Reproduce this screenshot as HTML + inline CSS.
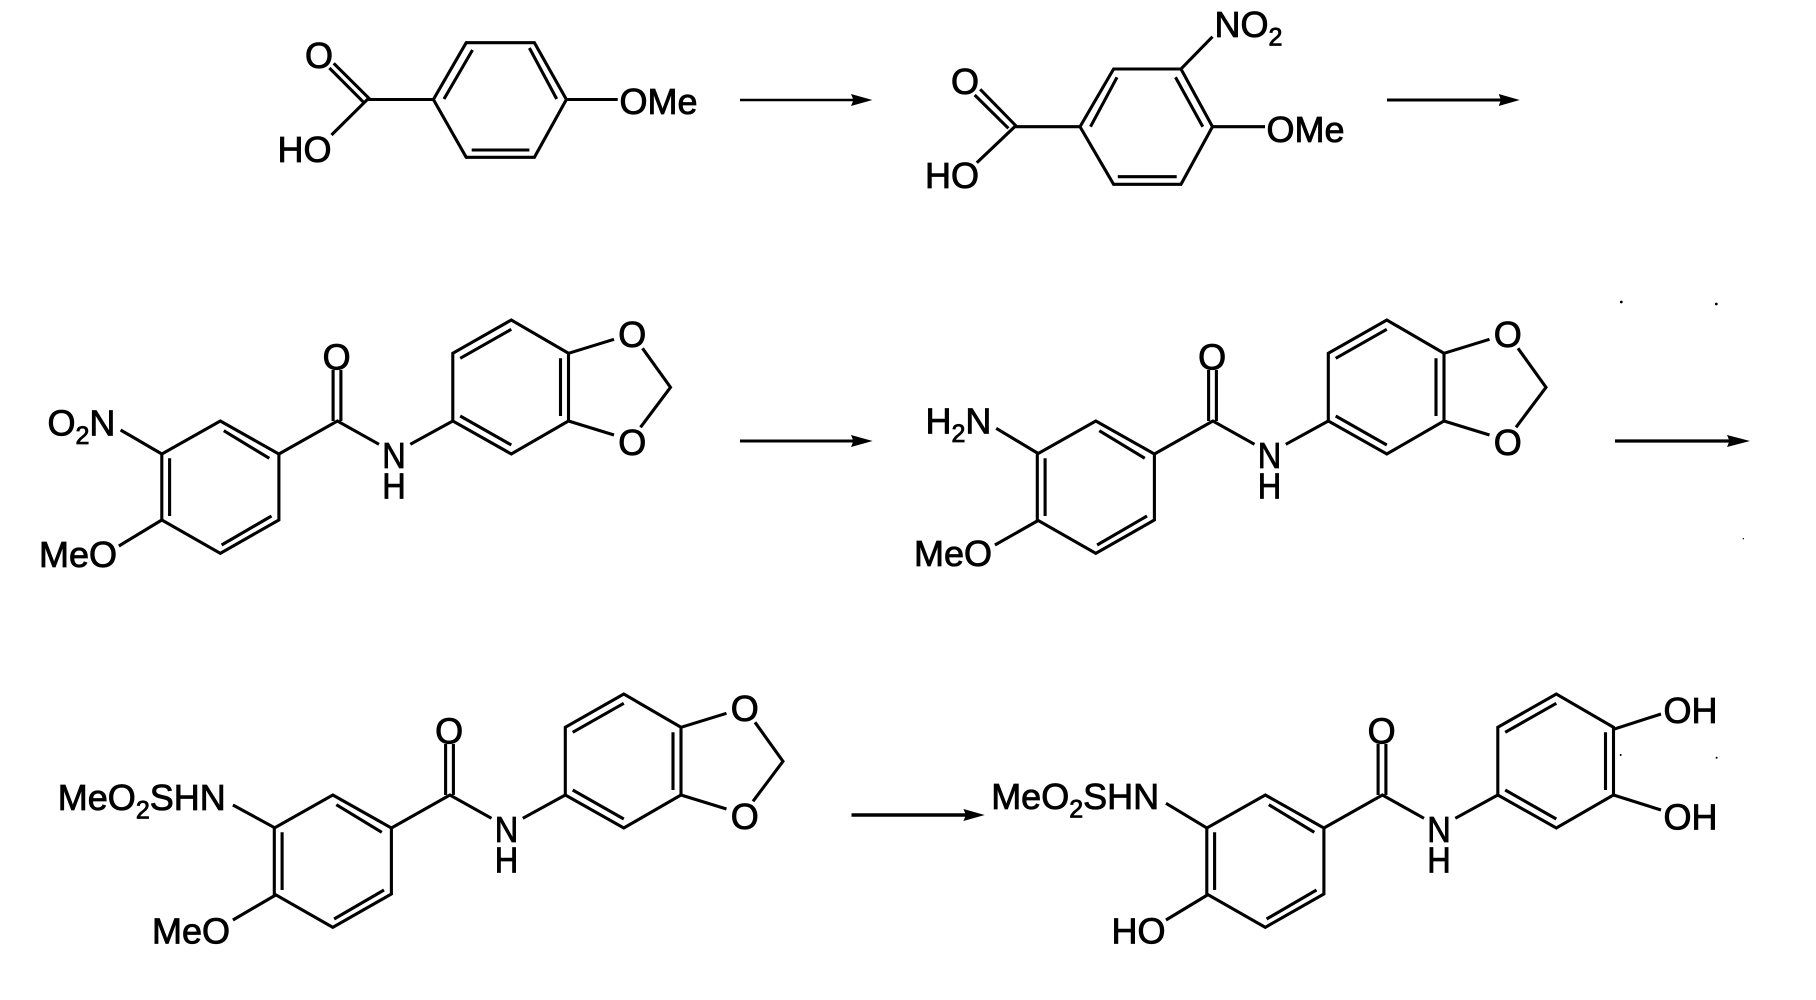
<!DOCTYPE html>
<html>
<head>
<meta charset="utf-8">
<style>
html,body{margin:0;padding:0;background:#fff;width:1816px;height:1000px;overflow:hidden}
svg{display:block}
text{font-family:"Liberation Sans",Arial,sans-serif;font-size:36px;fill:#000;stroke:#000;stroke-width:.85px}
.b{fill:none;stroke:#000;stroke-width:3.1;stroke-linejoin:miter;stroke-linecap:butt}
.s{font-size:25px}
</style>
</head>
<body>
<svg width="1816" height="1000" viewBox="0 0 1816 1000" xmlns="http://www.w3.org/2000/svg">
<rect width="1816" height="1000" fill="#fff"/>
<defs>
<path id="amide" class="b" d="M220.3 421L278.9 454V520L220.3 553.3L161.8 520V454ZM223.8 430.7L269.3 458.3M271.5 516L221.6 545M169.6 458.3V516M278.9 454L337.4 421L379 444.3M333.1 370V421M340.9 370V421M410.3 444.3L452.8 421M452.8 421V353.3L511.3 320L568.5 353.3V421L511.3 454ZM460.2 358.3L511.3 329.3M560.5 358.3V416M460.2 416L511.3 445"/>
<path id="diox" class="b" d="M568.5 353.3L614 339.3M642.5 348.3L670.5 387.3L640.5 427.3M614 435L568.5 421"/>
</defs>

<!-- Molecule 1 -->
<path class="b" d="M466.2 42.7H534.4L566.4 99.5L534.4 157.3H466.2L433.4 99.5ZM472.5 50L444 99M529.4 48L556.7 99M471.7 150H529.4M433.4 99.5H367.3L331.5 135M329.4 68L363 101.7M333.7 63.3L370 99.3M566.4 99.5H617.7"/>
<text x="319" y="68" text-anchor="middle">O</text>
<text x="277.5" y="162">HO</text>
<text x="619.5" y="114">OMe</text>
<path d="M740 100H860" stroke="#000" stroke-width="2.6"/>
<path d="M851 94L872.4 100L851 106L853.5 100Z"/>

<!-- Molecule 2 -->
<path class="b" d="M1113.6 69H1181L1212.5 36.7M1181 69L1212.5 126.7L1181 184.3H1113.6L1080 126.7L1113.6 69ZM1117 77.3L1090.5 126.7M1175.5 77.3L1202.8 126.7M1117.8 176.7H1176.7M1080 126.7H1014.7L976.8 162.7M974.7 95L1008.4 128.3M980.2 89.3L1016.8 126.7M1212.5 126.7H1265"/>
<text x="965" y="94" text-anchor="middle">O</text>
<text x="925" y="188">HO</text>
<text x="1214.5" y="37">NO<tspan class="s" dy="8.5">2</tspan></text>
<text x="1266.5" y="142">OMe</text>
<path d="M1387 100H1508" stroke="#000" stroke-width="3"/>
<path d="M1498.7 94L1519.7 100L1498.7 106L1501 100Z"/>

<!-- Molecule 3 -->
<use href="#amide"/>
<use href="#diox"/>
<path class="b" d="M120.6 430L161.8 454M161.8 520L118.9 546"/>
<text x="336.6" y="369.5" text-anchor="middle">O</text>
<text x="394" y="468" text-anchor="middle" textLength="23.5" lengthAdjust="spacingAndGlyphs">N</text>
<text x="394" y="498.3" text-anchor="middle" textLength="23.5" lengthAdjust="spacingAndGlyphs">H</text>
<text x="632.3" y="347" text-anchor="middle">O</text>
<text x="632.3" y="455" text-anchor="middle">O</text>
<text x="47.5" y="435.5">O<tspan class="s" dy="8.5">2</tspan><tspan dy="-8.5">N</tspan></text>
<text x="39" y="567">MeO</text>
<path d="M740 441H860" stroke="#000" stroke-width="3"/>
<path d="M851 435L872.6 441L851 447L853.5 441Z"/>

<!-- Molecule 4 -->
<g transform="translate(875.5 0)">
<use href="#amide"/>
<use href="#diox"/>
<text x="336.6" y="369.5" text-anchor="middle">O</text>
<text x="394" y="468" text-anchor="middle" textLength="23.5" lengthAdjust="spacingAndGlyphs">N</text>
<text x="394" y="498.3" text-anchor="middle" textLength="23.5" lengthAdjust="spacingAndGlyphs">H</text>
<text x="632.3" y="347" text-anchor="middle">O</text>
<text x="632.3" y="455" text-anchor="middle">O</text>
</g>
<path class="b" d="M996.2 428.3L1039 454M1039 520L994.9 545"/>
<text x="925.5" y="433.5">H<tspan class="s" dy="8.5">2</tspan><tspan dy="-8.5">N</tspan></text>
<text x="914" y="566">MeO</text>
<path d="M1615 441H1738" stroke="#000" stroke-width="3.2"/>
<path d="M1727 435L1750 441L1727 447L1729.5 441Z"/>
<circle cx="1621.3" cy="302" r="1.4"/>
<circle cx="1716.3" cy="304" r="1.4"/>
<circle cx="1743.3" cy="538.7" r=".7"/>

<!-- Molecule 5 -->
<g transform="translate(112.5 374)">
<use href="#amide"/>
<use href="#diox"/>
<text x="336.6" y="369.5" text-anchor="middle">O</text>
<text x="394" y="468" text-anchor="middle" textLength="23.5" lengthAdjust="spacingAndGlyphs">N</text>
<text x="394" y="498.3" text-anchor="middle" textLength="23.5" lengthAdjust="spacingAndGlyphs">H</text>
<text x="632.3" y="347" text-anchor="middle">O</text>
<text x="632.3" y="455" text-anchor="middle">O</text>
</g>
<path class="b" d="M232.9 805L275.7 828.3M275.7 895L232.9 920"/>
<text x="57.8" y="810">MeO<tspan class="s" dy="8.5">2</tspan><tspan dy="-8.5">SHN</tspan></text>
<text x="152" y="943.5">MeO</text>
<path d="M851.5 815H973" stroke="#000" stroke-width="3.6"/>
<path d="M963.4 809L984.7 815L963.4 821L966 815Z"/>

<!-- Molecule 6 -->
<g transform="translate(1045 374)">
<use href="#amide"/>
<text x="336.6" y="369.5" text-anchor="middle">O</text>
<text x="394" y="468" text-anchor="middle" textLength="23.5" lengthAdjust="spacingAndGlyphs">N</text>
<text x="394" y="498.3" text-anchor="middle" textLength="23.5" lengthAdjust="spacingAndGlyphs">H</text>
</g>
<path class="b" d="M1166 803.3L1207.4 828.3M1207.4 895L1166 920M1613.5 729.3L1661 714M1613.5 795L1661 810"/>
<text x="991.2" y="809">MeO<tspan class="s" dy="8.5">2</tspan><tspan dy="-8.5">SHN</tspan></text>
<text x="1111.5" y="943.5">HO</text>
<text x="1663.5" y="723">OH</text>
<text x="1663.5" y="829.5">OH</text>
<circle cx="1620.7" cy="755" r="1"/>
<circle cx="1716.6" cy="757.7" r="1"/>
</svg>
</body>
</html>
